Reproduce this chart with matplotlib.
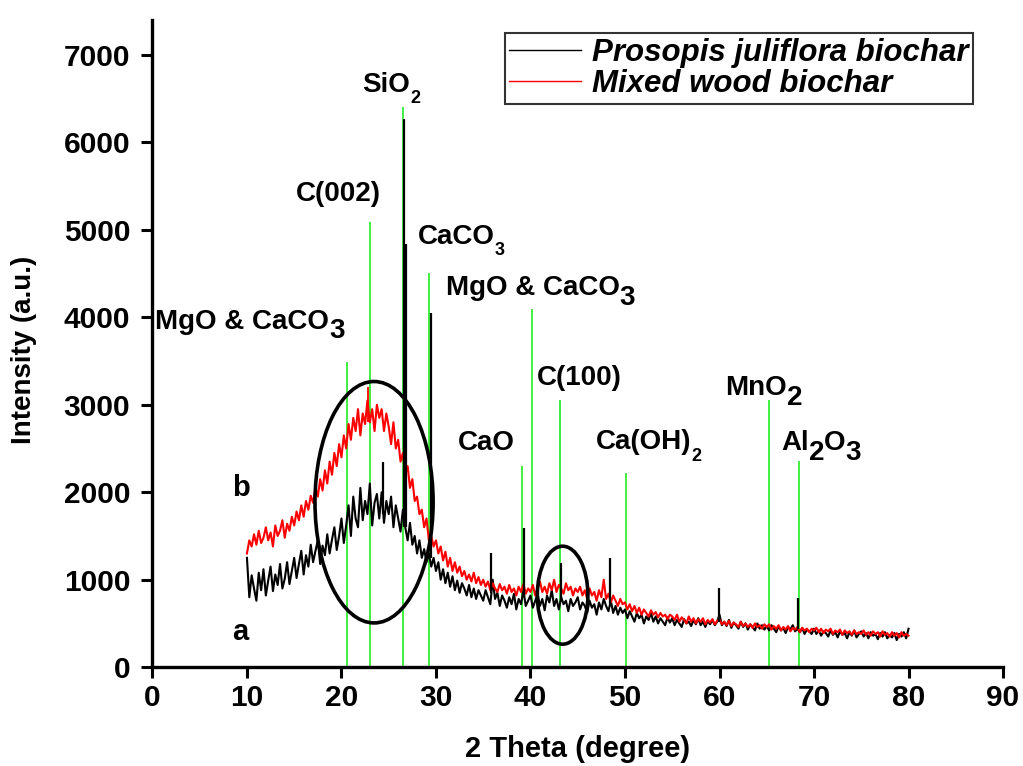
import matplotlib
matplotlib.use("Agg")
import matplotlib.pyplot as plt
from matplotlib.patches import Ellipse
from matplotlib.lines import Line2D
import numpy as np

# ── data ─────────────────────────────────────────────────────────────────────
two_theta = np.arange(10.0, 80.001, 0.25)

# a : Prosopis juliflora biochar (black), one row = 5 degrees
intensity_a = [
    1250, 800, 1050, 900, 760, 1080, 880, 1120, 820, 990, 1150, 870, 1060, 940, 1180, 900, 1010, 1200, 950, 1100,
    1250, 1020, 1180, 1330, 1060, 1280, 1150, 1400, 1200, 1330, 1450, 1180, 1390, 1280, 1520, 1300, 1460, 1600, 1340, 1500,
    1700, 1420, 1620, 1850, 1500, 1950, 1700, 1600, 2050, 1680, 1900, 1750, 2100, 1620, 1880, 1980, 1700, 2000, 1650, 1900,
    1750, 1950, 1600, 1850, 1700, 1550, 1800, 1600, 1450, 1650, 1400, 1500, 1300, 1450, 1250, 1350, 1200, 1300, 1150, 1250,
    1100, 1200, 1000, 1120, 960, 1080, 920, 1040, 880, 990, 850, 960, 900, 820, 940, 800, 900, 780, 880, 820,
    760, 880, 800, 720, 1000, 780, 850, 700, 820, 760, 680, 800, 720, 840, 660, 780, 720, 880, 700, 760,
    820, 680, 760, 840, 700, 780, 650, 820, 740, 880, 700, 780, 660, 800, 720, 760, 640, 780, 700, 740,
    800, 660, 740, 700, 620, 760, 680, 720, 600, 740, 660, 780, 700, 640, 760, 620, 700, 600, 680, 620,
    660, 560, 640, 580, 520, 620, 560, 600, 500, 580, 540, 620, 520, 580, 500, 560, 520, 480, 570, 510,
    560, 480, 540, 500, 460, 550, 500, 520, 470, 540, 490, 560, 480, 520, 460, 530, 490, 540, 480, 520,
    600, 480, 520, 470, 540, 450, 510, 480, 440, 520, 460, 500, 430, 490, 460, 420, 500, 440, 480, 430,
    470, 420, 480, 440, 400, 470, 420, 450, 390, 460, 430, 480, 410, 440, 400, 450, 380, 430, 410, 380,
    440, 380, 420, 360, 410, 390, 350, 420, 370, 400, 340, 410, 370, 390, 330, 400, 360, 420, 340, 380,
    410, 350, 390, 330, 400, 360, 380, 320, 390, 350, 400, 330, 370, 340, 390, 310, 380, 350, 400, 330,
    440,
]

# b : Mixed wood biochar (red)
intensity_b = [
    1300, 1450, 1380, 1520, 1400, 1560, 1420, 1480, 1600, 1450, 1540, 1380, 1620, 1500, 1560, 1680, 1480, 1640, 1560, 1720,
    1620, 1780, 1680, 1850, 1720, 1900, 1800, 1960, 1880, 2050, 1950, 2150, 2020, 2250, 2100, 2350, 2200, 2450, 2300, 2550,
    2400, 2650, 2500, 2780, 2600, 2850, 2700, 2950, 2650, 2900, 2780, 3050, 2800, 2950, 2700, 3000, 2850, 2950, 2700, 2900,
    2750, 2550, 2800, 2500, 2600, 2350, 2450, 2200, 2300, 2050, 2150, 1900, 1950, 1750, 1800, 1600, 1700, 1450, 1500, 1380,
    1450, 1300, 1380, 1220, 1320, 1150, 1250, 1100, 1200, 1080, 1150, 1040, 1100, 1000, 1060, 980, 1080, 960, 1030, 940,
    1000, 920, 980, 880, 960, 900, 860, 950, 880, 920, 840, 940, 860, 900, 820, 920, 860, 950, 840, 900,
    860, 940, 820, 900, 980, 860, 920, 840, 960, 880, 1000, 860, 940, 900, 840, 960, 880, 920, 820, 900,
    860, 920, 820, 880, 780, 900, 820, 860, 760, 880, 800, 1000, 780, 840, 740, 820, 760, 700, 780, 720,
    740, 660, 720, 640, 700, 620, 680, 600, 660, 620, 580, 650, 600, 630, 570, 620, 580, 600, 550, 600,
    580, 540, 600, 520, 570, 540, 500, 580, 520, 560, 500, 550, 520, 560, 490, 540, 510, 550, 490, 530,
    540, 490, 520, 480, 530, 470, 510, 490, 460, 520, 470, 500, 460, 490, 450, 500, 460, 480, 440, 490,
    460, 490, 430, 470, 440, 480, 420, 460, 430, 470, 410, 450, 430, 460, 400, 450, 420, 440, 400, 440,
    420, 450, 400, 440, 390, 430, 410, 440, 380, 420, 400, 430, 370, 420, 390, 410, 370, 420, 380, 400,
    380, 420, 370, 400, 360, 410, 380, 400, 350, 410, 370, 390, 350, 400, 360, 390, 340, 400, 360, 380,
    360,
]

# sharp crystalline spikes (position, foot, top)
spike_pos_a = [24.4, 26.65, 26.8, 29.45, 35.8, 39.35, 43.2, 48.4, 59.9, 68.3]
spike_foot_a = [1750, 1600, 1600, 1250, 850, 800, 780, 720, 520, 440]
spike_top_a = [2350, 6270, 4840, 4050, 1300, 1590, 1190, 1245, 900, 786]

spike_pos_b = [22.8]
spike_foot_b = [2800]
spike_top_b = [3200]

# reference phase lines (green)
ref_pos = [20.6, 23.0, 26.5, 29.3, 39.1, 40.15, 43.1, 50.1, 65.2, 68.4]
ref_height = [3490, 5090, 6400, 4510, 2300, 4100, 3055, 2220, 3055, 2360]

# ── style ────────────────────────────────────────────────────────────────────
plt.rcParams.update({
    "font.family": ["Liberation Sans", "DejaVu Sans"],
    "font.weight": "bold",
    "axes.labelweight": "bold",
    "axes.linewidth": 2.4,
})

GREEN = "#33ee33"

fig = plt.figure(figsize=(10.23, 7.66), dpi=100)
ax = fig.add_axes([0.149, 0.129, 0.8315, 0.845])

ax.vlines(ref_pos, 0, ref_height, color=GREEN, lw=1.3, zorder=1)

ax.plot(two_theta, intensity_a, color="black", lw=1.5, zorder=2)
ax.plot(two_theta, intensity_b, color="red", lw=1.5, zorder=3)
ax.vlines(spike_pos_a, spike_foot_a, spike_top_a, color="black", lw=1.6, zorder=4)
ax.vlines(spike_pos_b, spike_foot_b, spike_top_b, color="red", lw=1.3, zorder=3)

# circled regions
ax.add_patch(Ellipse((23.45, 1886), 12.5, 2760, fill=False, ec="black", lw=2.6, zorder=5))
ax.add_patch(Ellipse((43.4, 823), 5.35, 1120, fill=False, ec="black", lw=2.6, zorder=5))

ax.set_xlim(0, 90)
ax.set_ylim(0, 7400)
ax.set_xticks(np.arange(0, 91, 10))
ax.set_yticks(np.arange(0, 7001, 1000))
ax.spines[["top", "right"]].set_visible(False)
ax.tick_params(axis="both", direction="out", length=8, width=2.2, labelsize=21.5)
ax.tick_params(axis="y", pad=8)
ax.tick_params(axis="x", pad=4)

ax.set_xlabel("2 Theta (degree)", fontsize=21)
ax.set_ylabel("Intensity (a.u.)", fontsize=20)
ax.xaxis.set_label_coords(0.5, -0.105)
ax.yaxis.set_label_coords(-0.136, 0.49)

# ── peak labels ──────────────────────────────────────────────────────────────
def chem(x, y, parts, big_sub):
    """parts alternates normal text / subscript text."""
    sub_size = 20 if big_sub else 13
    drop = 7 if big_sub else 10
    t = ax.text(x, y, parts[0], ha="left", va="center", fontsize=20, zorder=6)
    prev = t
    for i, p in enumerate(parts[1:], start=1):
        if i % 2 == 1:
            prev = ax.annotate(p, xy=(1, 0.5), xycoords=prev, xytext=(0, -drop),
                               textcoords="offset points", ha="left", va="center",
                               fontsize=sub_size)
        else:
            prev = ax.annotate(p, xy=(1, 0.5), xycoords=prev, xytext=(0, drop),
                               textcoords="offset points", ha="left", va="center",
                               fontsize=20)

chem(0.27, 3950, ["MgO & CaCO", "3"], True)
chem(15.2, 5410, ["C(002)"], True)
chem(22.2, 6660, ["SiO", "2"], False)
chem(28.1, 4920, ["CaCO", "3"], False)
chem(31.05, 4330, ["MgO & CaCO", "3"], True)
chem(32.3, 2560, ["CaO"], True)
chem(40.65, 3305, ["C(100)"], True)
chem(46.9, 2570, ["Ca(OH)", "2"], False)
chem(60.6, 3190, ["MnO", "2"], True)
chem(66.5, 2560, ["Al", "2", "O", "3"], True)

ax.text(9.35, 2050, "b", ha="center", va="center", fontsize=21)
ax.text(9.3, 405, "a", ha="center", va="center", fontsize=21)

# ── legend ───────────────────────────────────────────────────────────────────
handles = [Line2D([], [], color="black", lw=1),
           Line2D([], [], color="red", lw=1)]
leg = ax.legend(handles, ["Prosopis juliflora biochar", "Mixed wood biochar"],
                loc="upper right", bbox_to_anchor=(0.965, 0.98),
                prop={"weight": "bold", "style": "italic", "size": 22.5},
                frameon=True, fancybox=False, edgecolor="black",
                borderpad=0.15, labelspacing=0.05, handlelength=2.3,
                handletextpad=0.35, borderaxespad=0)
leg.get_frame().set_linewidth(1.5)

fig.savefig("out.png", dpi=100)
